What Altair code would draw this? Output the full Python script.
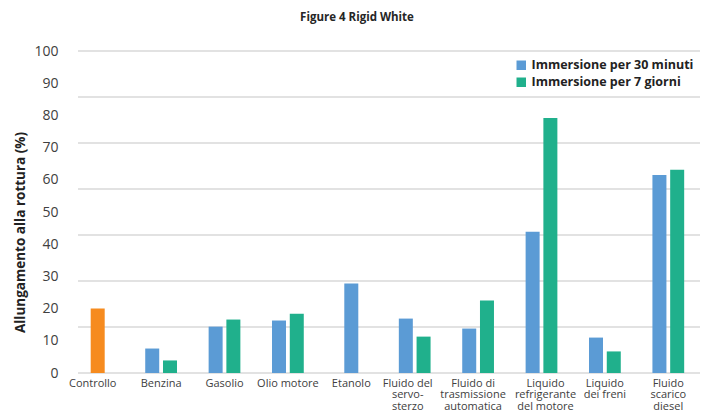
import altair as alt
import pandas as pd

categories = ["Controllo", "Benzina", "Gasolio", "Olio motore", "Etanolo",
              "Fluido del|servo-|sterzo", "Fluido di|trasmissione|automatica",
              "Liquido|refrigerante|del motore", "Liquido|dei freni", "Fluido|scarico|diesel"]
series_names = ["Controllo", "Immersione per 30 minuti", "Immersione per 7 giorni"]

# values per category
control_vals = {"Controllo": 20.0}
min30_vals = [None, 7.6, 14.4, 16.3, 27.8, 16.9, 13.8, 43.9, 11.0, 61.5]
days7_vals = [None, 3.9, 16.6, 18.4, None, 11.3, 22.5, 79.2, 6.7, 63.1]

y_ticks = [0, 10, 20, 30, 40, 50, 60, 70, 80, 90, 100]
grid_vals = [100 * i / 7 for i in range(8)]

rows = []
for i, c in enumerate(categories):
    if c in control_vals:
        rows.append({"cat": c, "series": "Controllo", "slot": "mid", "value": control_vals[c]})
    a, b = min30_vals[i], days7_vals[i]
    if a is not None and b is not None:
        rows.append({"cat": c, "series": series_names[1], "slot": "left", "value": a})
        rows.append({"cat": c, "series": series_names[2], "slot": "right", "value": b})
    elif a is not None:
        rows.append({"cat": c, "series": series_names[1], "slot": "mid", "value": a})
    elif b is not None:
        rows.append({"cat": c, "series": series_names[2], "slot": "mid", "value": b})
df = pd.DataFrame(rows)
grid_df = pd.DataFrame({"g": grid_vals})

W, H = 634, 322
FONT = "Open Sans"

yscale = alt.Scale(domain=[0, 100], nice=False)
yaxis = alt.Axis(values=y_ticks, grid=False, domain=False, ticks=False,
                 labelFont=FONT, labelFontSize=14, labelColor="#404040",
                 labelPadding=8, titleFont=FONT, titleFontSize=13.5,
                 titleFontWeight="bold", titleColor="#222222",
                 titleX=-46, titleY=181, titleAngle=270, titleAlign="center",
                 titleBaseline="middle")
ytitle = "Allungamento alla rottura (%)"

label_shift = ("datum.value == 'Controllo' ? -5 : "
               "datum.value == 'Fluido del|servo-|sterzo' ? -7 : "
               "datum.value == 'Fluido di|trasmissione|automatica' ? -5 : "
               "datum.value == 'Liquido|refrigerante|del motore' ? 4 : 0")

grid = alt.Chart(grid_df).mark_rule(color="#d9d9d9", strokeWidth=1.5).encode(
    y=alt.Y("g:Q", scale=yscale, axis=yaxis, title=ytitle),
    x=alt.value(12),
    x2=alt.value(W),
)

bars = alt.Chart(df).mark_bar(width=14).encode(
    x=alt.X("cat:N", sort=categories, title=None,
            scale=alt.Scale(paddingInner=0.58, paddingOuter=0.29),
            axis=alt.Axis(labelAngle=0, labelExpr="split(datum.label, '|')",
                          labelFont=FONT, labelFontSize=11, labelColor="#404040",
                          labelPadding=4, domain=False, ticks=False, labelLineHeight=11.5,
                          labelBaseline="top", labelOffset=alt.ExprRef(label_shift))),
    xOffset=alt.XOffset("slot:N", scale=alt.Scale(domain=["left", "mid", "right"], paddingInner=0, paddingOuter=0)),
    y=alt.Y("value:Q", scale=yscale, title=ytitle, axis=yaxis),
    color=alt.Color("series:N",
                    scale=alt.Scale(domain=series_names, range=["#f68b1f", "#5b9bd5", "#20b08c"]),
                    legend=alt.Legend(title=None, orient="none", legendX=449, legendY=8,
                                      values=series_names[1:], symbolType="square",
                                      symbolSize=90, symbolStrokeWidth=0, labelLimit=400,
                                      labelFont=FONT, labelFontSize=12.5, labelFontWeight="bold",
                                      labelColor="#222222", rowPadding=4, padding=0)),
)

chart = alt.layer(grid, bars).properties(
    width=W, height=H,
    title=alt.TitleParams("Figure 4 Rigid White", font=FONT, fontSize=11.5, fontWeight="bold",
                          color="#262626", anchor="middle", dx=-26, offset=21),
    autosize=alt.AutoSizeParams(type="none"),
    padding={"left": 58, "top": 43, "right": 3, "bottom": 38},
).configure_view(stroke=None)

chart.save("out.html", embed_options={"renderer": "svg", "actions": False})
